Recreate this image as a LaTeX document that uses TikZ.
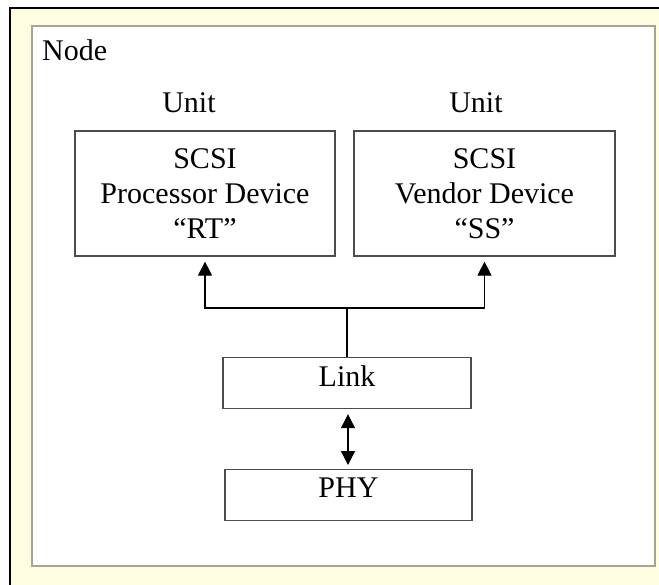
\documentclass[tikz,border=0pt]{standalone}
\usepackage{fontspec}
\setmainfont{Liberation Serif}
\usepackage{tikz}
\usetikzlibrary{positioning}
\usetikzlibrary{arrows.meta,shapes}
\usetikzlibrary{calc}
\definecolor{cream}{RGB}{255,253,225}
\definecolor{framegray}{RGB}{165,165,150}
\tikzstyle{devbox}=[rectangle,draw=black!70,line width=1.2pt,minimum height=125pt,align=center,inner sep=0pt]
\tikzstyle{layerbox}=[rectangle,draw=black!70,line width=1.2pt,inner sep=0pt,text height=29pt,text depth=22pt]
\tikzstyle{plain}=[inner sep=0pt]
\tikzstyle{edge} = [draw,line width=1.2pt,-{Triangle[length=14pt,width=14pt]}]
\tikzstyle{bothedge} = [draw,line width=1.2pt,{Triangle[length=14pt,width=14pt]}-{Triangle[length=14pt,width=14pt]}]
\tikzstyle{undirectededge} = [draw,line width=1.2pt]

\begin{document}
\begin{tikzpicture}[x=1pt,y=-1pt,font=\fontsize{30}{35}\selectfont]
    \useasboundingbox (0,0) rectangle (659,584);
    % frames
    \fill[cream] (10,8) rectangle (670,600);
    \draw[line width=2pt] (10,600) -- (10,8) -- (670,8);
    \draw[draw=framegray,line width=2pt,fill=white] (32,26) rectangle (655,566);
    \node[plain,anchor=base west] (nodetitle) at (42,60) {Node};

    \foreach \pos/\name/\boxwd/\label in {{(205,193.5)/procdev/260pt/{SCSI\\Processor Device\\``RT''}}, {(484.5,193.5)/venddev/261pt/{SCSI\\Vendor Device\\``SS''}}}
        \node[devbox,minimum width=\boxwd] (\name) at \pos {\label};

    \foreach \pos/\name in {{(189,112)/unitL}, {(476,112)/unitR}}
        \node[plain,anchor=base] (\name) at \pos {Unit};

    \node[layerbox,minimum width=248pt,anchor=north] (link) at (347,357) {Link};
    \node[layerbox,minimum width=247pt,anchor=north,text height=28pt,text depth=23pt] (phy) at (348.5,469) {PHY};

    \coordinate (split) at (347,308);
    \path[undirectededge] (link.north) -- (split);
    \foreach \dest in {procdev, venddev}
        \path[edge,shorten >=5pt] (split) -| (\dest.south);
    \path[bothedge,shorten <=5pt,shorten >=4pt] ($(link.south)+(1,0)$) -- ($(link.south |- phy.north)+(1,0)$);
\end{tikzpicture}
\end{document}
